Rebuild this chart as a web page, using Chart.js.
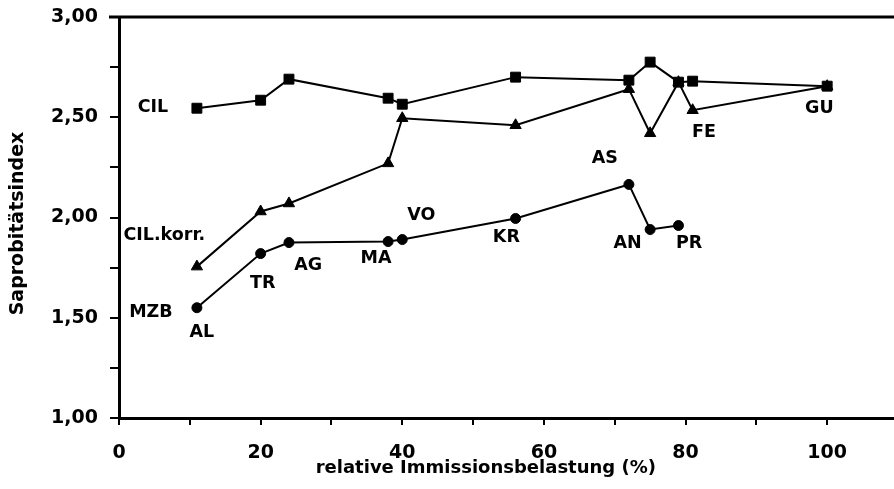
<!DOCTYPE html>
<html>
<head>
<meta charset="utf-8">
<script src="https://cdn.jsdelivr.net/npm/chart.js@4/dist/chart.umd.min.js"></script>
<style>
    html, body { margin: 0; padding: 0; background: #fff; overflow: hidden; }
    #wrap { width: 894px; height: 489px; overflow: hidden; }
</style>
</head>
<body>
<div id="wrap"><canvas id="saprobieChart" width="906" height="489"></canvas></div>
<script>
// Sites (sampling stations) and their relative immission load (%)
const sites = ['AL', 'TR', 'AG', 'MA', 'VO', 'KR', 'AS', 'AN', 'PR', 'FE', 'GU'];
const immission = [11, 20, 24, 38, 40, 56, 72, 75, 79, 81, 100];

// Saprobic index per site
const cilValues = [2.545, 2.585, 2.69, 2.595, 2.565, 2.70, 2.685, 2.775, 2.675, 2.68, 2.655];
const cilKorrValues = [1.755, 2.03, 2.07, 2.27, 2.495, 2.46, 2.64, 2.42, 2.675, 2.535, 2.655];
const mzbValues = [1.55, 1.82, 1.875, 1.88, 1.89, 1.995, 2.165, 1.94, 1.96]; // AL .. PR only

// Text annotations placed in data units
const annotations = [
    { text: 'CIL', x: 4.8, y: 2.55 },
    { text: 'CIL.korr.', x: 6.4, y: 1.91 },
    { text: 'MZB', x: 4.5, y: 1.525 },
    { text: 'AL', x: 11.7, y: 1.425 },
    { text: 'TR', x: 20.3, y: 1.67 },
    { text: 'AG', x: 26.7, y: 1.76 },
    { text: 'MA', x: 36.3, y: 1.795 },
    { text: 'VO', x: 42.7, y: 2.01 },
    { text: 'KR', x: 54.7, y: 1.90 },
    { text: 'AS', x: 68.6, y: 2.295 },
    { text: 'AN', x: 71.8, y: 1.87 },
    { text: 'PR', x: 80.5, y: 1.87 },
    { text: 'FE', x: 82.6, y: 2.425 },
    { text: 'GU', x: 98.9, y: 2.545 }
];

const xTitle = 'relative Immissionsbelastung (%)';
const yTitle = 'Saprobitätsindex';

const FONT = 'DejaVu Sans';

function toPoints(values) {
    return values.map((v, i) => ({ x: immission[i], y: v }));
}

function seriesStyle(style, radius) {
    return {
        showLine: true,
        borderColor: '#000',
        backgroundColor: '#000',
        borderWidth: 2,
        pointStyle: style,
        pointRadius: radius,
        pointHoverRadius: radius,
        pointBorderWidth: 1,
        tension: 0
    };
}

// Top frame line, axis titles and the site labels
const framePlugin = {
    id: 'framePlugin',
    afterDatasetsDraw(chart) {
        const { ctx, chartArea, scales } = chart;
        ctx.save();
        ctx.strokeStyle = '#000';
        ctx.lineWidth = 3;
        ctx.beginPath();
        ctx.moveTo(chartArea.left - 10, chartArea.top);
        ctx.lineTo(chart.width, chartArea.top);
        ctx.stroke();

        ctx.fillStyle = '#000';
        ctx.textAlign = 'center';
        ctx.textBaseline = 'middle';
        ctx.font = 'bold 17.5px "' + FONT + '"';
        annotations.forEach(a => {
            ctx.fillText(a.text, scales.x.getPixelForValue(a.x), scales.y.getPixelForValue(a.y));
        });

        // axis titles
        ctx.font = 'bold 18px "' + FONT + '"';
        ctx.fillText(xTitle, scales.x.getPixelForValue(51.8), chartArea.bottom + 50);
        ctx.translate(18, scales.y.getPixelForValue(1.97));
        ctx.rotate(-Math.PI / 2);
        ctx.font = 'bold 19px "' + FONT + '"';
        ctx.fillText(yTitle, 0, 0);
        ctx.restore();
    }
};

new Chart(document.getElementById('saprobieChart'), {
    type: 'scatter',
    data: {
        datasets: [
            Object.assign({ label: 'CIL', data: toPoints(cilValues) }, seriesStyle('rect', 7)),
            Object.assign({ label: 'CIL.korr.', data: toPoints(cilKorrValues) }, seriesStyle('triangle', 6.5)),
            Object.assign({ label: 'MZB', data: toPoints(mzbValues) }, seriesStyle('circle', 5))
        ]
    },
    options: {
        responsive: false,
        animation: false,
        devicePixelRatio: 1,
        layout: { padding: { top: 17, right: -16, left: 0, bottom: 0 } },
        plugins: {
            legend: { display: false },
            tooltip: { enabled: false }
        },
        scales: {
            x: {
                type: 'linear',
                min: 0,
                max: 110,
                afterFit: scale => {
                    scale.height = 71;
                    scale.paddingLeft = 0;
                    scale.paddingRight = 0;
                },
                border: { display: true, color: '#000', width: 3 },
                grid: { drawOnChartArea: false, drawTicks: true, tickLength: 7, color: '#000', lineWidth: 2 },
                ticks: {
                    stepSize: 10,
                    padding: 17,
                    color: '#000',
                    font: { family: FONT, size: 19, weight: 'bold' },
                    maxRotation: 0,
                    autoSkip: false,
                    callback: v => (v % 20 === 0 && v <= 100) ? String(v) : ''
                }
            },
            y: {
                type: 'linear',
                min: 1,
                max: 3,
                afterFit: scale => {
                    scale.width = 119;
                    scale.paddingTop = 0;
                    scale.paddingBottom = 0;
                },
                border: { display: true, color: '#000', width: 3 },
                grid: { drawOnChartArea: false, drawTicks: true, tickLength: 9, color: '#000', lineWidth: 2 },
                ticks: {
                    stepSize: 0.25,
                    padding: 12,
                    color: '#000',
                    font: { family: FONT, size: 19, weight: 'bold' },
                    autoSkip: false,
                    callback: v => (Math.abs(v * 2 - Math.round(v * 2)) < 1e-6) ? v.toFixed(2).replace('.', ',') : ''
                }
            }
        }
    },
    plugins: [framePlugin]
});
</script>
</body>
</html>
